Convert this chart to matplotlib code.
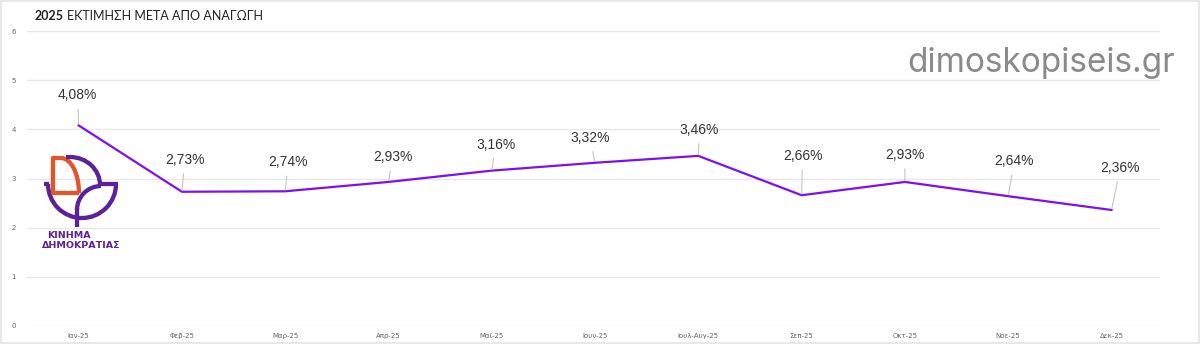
import matplotlib
matplotlib.use("Agg")
import matplotlib.pyplot as plt
from matplotlib.patches import Arc, Rectangle
import numpy as np

# data
months = ["Ιαν-25", "Φεβ-25", "Μαρ-25", "Απρ-25", "Μαϊ-25", "Ιουν-25",
          "Ιουλ-Αυγ-25", "Σεπ-25", "Οκτ-25", "Νοε-25", "Δεκ-25"]
values = [4.08, 2.73, 2.74, 2.93, 3.16, 3.32, 3.46, 2.66, 2.93, 2.64, 2.36]
labels = ["4,08%", "2,73%", "2,74%", "2,93%", "3,16%", "3,32%",
          "3,46%", "2,66%", "2,93%", "2,64%", "2,36%"]

# label offsets in pixels (dx, dy up)
offsets = [(-1, 30), (3, 32), (3, 29), (4, 25), (4, 26), (-5, 25),
           (1, 26), (1, 39), (0, 27), (6, 35), (9, 42)]

PX = 0.72  # points per pixel at dpi 100
LINE = "#7f10ee"
GRID = "#e8e8e8"

fig = plt.figure(figsize=(12, 3.44), dpi=100)
fig.patch.set_facecolor("white")

# thin frame around the figure
fig.add_artist(Rectangle((0.001, 0.003), 0.998, 0.994, transform=fig.transFigure,
                         fill=False, edgecolor="#e4e4e4", lw=1.2))

ax = fig.add_axes([27 / 1200, 18 / 344, (1160 - 27) / 1200, (326 - 31) / 344])
x = np.arange(len(months))
ax.plot(x, values, color=LINE, lw=1.6, zorder=3, solid_joinstyle="miter")

for xi, v, lab, (dx, dy) in zip(x, values, labels, offsets):
    ax.annotate(lab, (xi, v), xytext=(dx * PX, dy * PX), textcoords="offset points",
                ha="center", va="center", fontsize=10, color="#333333",
                family=["Liberation Sans", "DejaVu Sans"],
                arrowprops=dict(arrowstyle="-", color="#c4c4c4", lw=0.8,
                                shrinkA=3, shrinkB=1))

ax.set_xlim(-0.5, 10.47)
ax.set_ylim(0, 6)
ax.set_yticks(range(0, 7))
ax.set_xticks(x)
ax.set_xticklabels(months)
ax.tick_params(axis="both", length=0, labelsize=5, labelcolor="#666666")
ax.tick_params(axis="x", pad=5)
ax.tick_params(axis="y", pad=8)
ax.grid(axis="y", color=GRID, lw=1)
ax.set_axisbelow(True)
for s in ax.spines.values():
    s.set_visible(False)

# title
fig.text(35 / 1200, 1 - 16 / 344, "2025", fontsize=9, fontweight="bold",
         color="#222222", family=["Lato", "DejaVu Sans"], va="center", ha="left")
fig.text(67 / 1200, 1 - 16 / 344, "ΕΚΤΙΜΗΣΗ ΜΕΤΑ ΑΠΟ ΑΝΑΓΩΓΗ", fontsize=9,
         color="#222222", family=["Lato", "DejaVu Sans"], va="center", ha="left")

# watermark
fig.text(1175 / 1200, 1 - 63 / 344, "dimoskopiseis.gr", fontsize=24,
         color="#8a8a8a", family=["Inter", "DejaVu Sans"], fontweight="normal",
         va="center", ha="right")

# logo drawn in pixel coordinates (y negated so up is up)
lg = fig.add_axes([30 / 1200, 1 - 255 / 344, 100 / 1200, 110 / 344])
lg.set_xlim(30, 130)
lg.set_ylim(-255, -145)
lg.axis("off")
PURPLE = "#5b2197"
ORANGE = "#e0562b"
w = 4.3 * PX

def seg(xs, ys, c):
    lg.plot(xs, [-y for y in ys], color=c, lw=w, solid_capstyle="butt")

def arc(cx, cy, wd, ht, t1, t2, c):
    lg.add_patch(Arc((cx, -cy), wd, ht, theta1=t1, theta2=t2, color=c, lw=w))

# orange D
seg([61, 53, 53, 79], [158, 158, 193, 193], ORANGE)
arc(61, 193, 36, 70, 0, 90, ORANGE)
# purple cup
arc(82, 184, 68, 68, 180, 360, PURPLE)
seg([44, 49], [184, 184], PURPLE)
seg([100, 118], [184, 184], PURPLE)
# stem and leaves
seg([77, 77], [208, 227], PURPLE)
arc(101, 210, 48, 48, 90, 180, PURPLE)
arc(70, 185, 60, 56, 0, 90, PURPLE)
seg([66, 70], [157, 157], PURPLE)
lg.text(47, -236, "ΚΙΝΗΜΑ", fontsize=6.8, fontweight="bold", color=PURPLE,
        family=["DejaVu Sans"], va="center", ha="left")
lg.text(42, -245.5, "ΔΗΜΟΚΡΑΤΙΑΣ", fontsize=6.8, fontweight="bold", color=PURPLE,
        family=["DejaVu Sans"], va="center", ha="left")

fig.savefig("out.png", dpi=100)
